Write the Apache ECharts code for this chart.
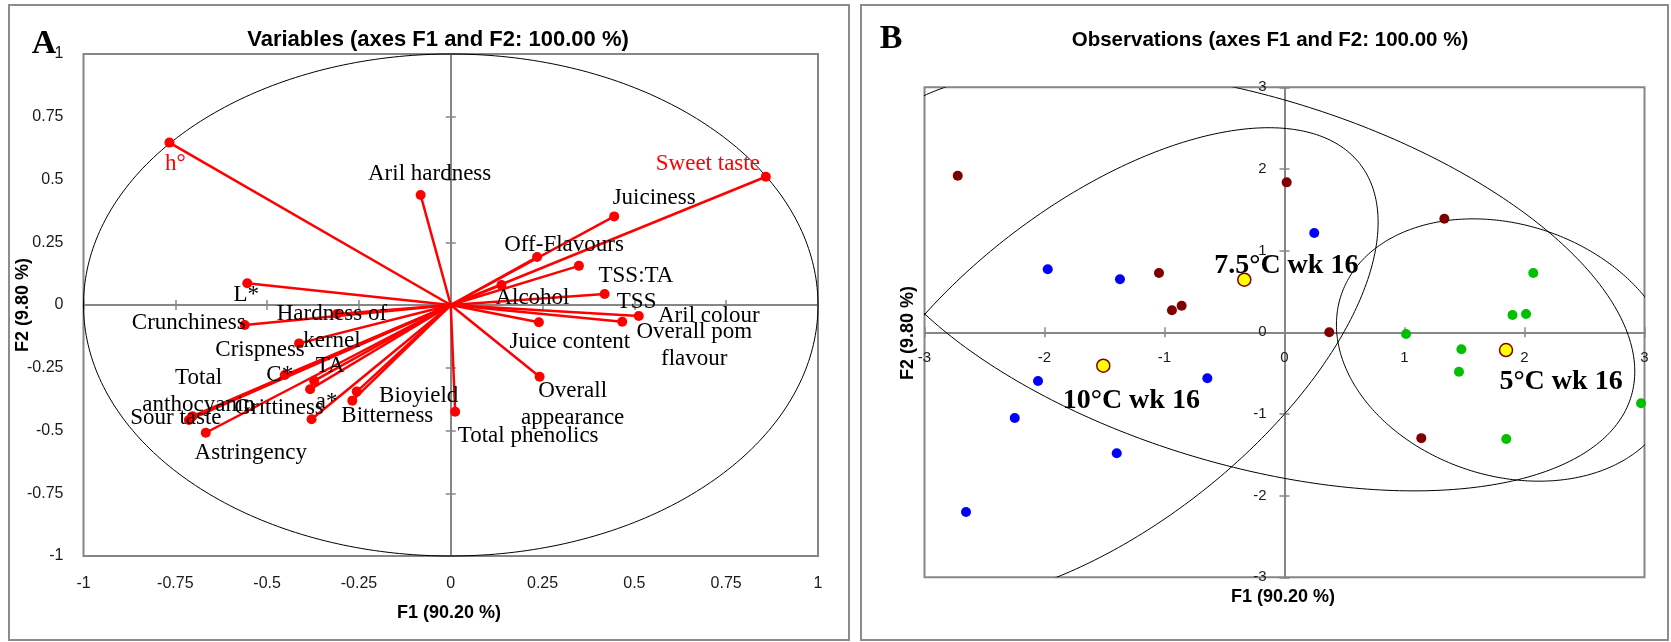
<!DOCTYPE html>
<html><head><meta charset="utf-8">
<script src="https://cdn.jsdelivr.net/npm/echarts@6/dist/echarts.min.js"></script>
<style>html,body{margin:0;padding:0;background:#fff}#chart{width:1671px;height:642px}</style>
</head><body><div id="chart"></div>
<script>
// ---------- Panel A: variables (F1 / F2 loadings) ----------
const variableNames = ['h°','Aril hardness','Sweet taste','Juiciness','Off-Flavours','TSS:TA','Alcohol','TSS','Aril colour','Overall pom\nflavour','Juice content','Overall\nappearance','Total phenolics','Bioyield','Bitterness','a*','Grittiness','TA','C*','Total\nanthocyanin','Sour taste','Astringency','Crispness','Hardness of\nkernel','Crunchiness','L*'];
const variableF1 = [-0.766,-0.082,0.858,0.445,0.235,0.349,0.138,0.419,0.512,0.467,0.240,0.242,0.012,-0.256,-0.268,-0.379,-0.383,-0.372,-0.452,-0.703,-0.713,-0.667,-0.413,-0.310,-0.561,-0.554];
const variableF2 = [0.647,0.438,0.511,0.353,0.191,0.156,0.080,0.044,-0.044,-0.067,-0.069,-0.286,-0.425,-0.345,-0.381,-0.455,-0.336,-0.302,-0.279,-0.443,-0.458,-0.509,-0.153,-0.036,-0.080,0.087];
const redVariables = ['h°','Sweet taste'];
const tickA = [-1, 1, 0.25];
const unitCircle = [[0, 0, 1, 1, 0]];

// ---------- Panel B: observations ----------
const obs75F1 = [-2.723,0.018,1.332,-1.046,-0.857,-0.938,0.373,1.140];
const obs75F2 = [1.917,1.836,1.391,0.726,0.326,0.269,0.000,-1.296];
const obs10F1 = [0.248,-1.973,-1.371,-2.054,-0.643,-2.248,-1.398,-2.654];
const obs10F2 = [1.215,0.771,0.649,-0.596,-0.563,-1.049,-1.481,-2.200];
const obs5F1 = [2.073,1.900,2.013,1.013,1.474,1.454,2.971,1.848];
const obs5F2 = [0.726,0.212,0.224,-0.020,-0.208,-0.482,-0.869,-1.306];
const centroidNames = ['7.5°C wk 16','10°C wk 16','5°C wk 16'];
const centroidF1 = [-0.335,-1.510,1.846];
const centroidF2 = [0.644,-0.409,-0.217];
// confidence ellipses: centre, semi-axes, orientation (deg)
const ellipseCX = [-0.335,-1.510,1.846];
const ellipseCY = [0.644,-0.409,-0.217];
const ellipseA = [3.575,3.347,1.678];
const ellipseB = [2.120,1.592,1.327];
const ellipseAngle = [-30.95,56.0,-61.74];
const tickB = [-3, 3, 1];

// ---------- layout / style (not data) ----------
const SERIF = "'Liberation Serif','Times New Roman',serif";
const SANS = "'Liberation Sans',Arial,sans-serif";
const AX = '#868686';
const labelOffsetA = [[6,21],[9,-21],[-58,-13],[40,-18],[27,-12],[57,10],[31,13],[32,8],[70,0],[72,24],[31,20],[33,28],[73,24],[62,4],[35,15],[15,-17],[-31,19],[16,-15],[-5,0],[6,-25],[-13,-2],[45,20],[-39,7],[-5,13],[-56,-2],[-1,12]];
const centroidLabelOffset = [[42,-14],[28,35],[55,32]];

function ellipseItem(params, api) {
  const cx = api.value(0), cy = api.value(1), a = api.value(2), b = api.value(3);
  const phi = api.value(4) * Math.PI / 180;
  const pts = [];
  const N = 360;
  for (let i = 0; i <= N; i++) {
    const t = i / N * 2 * Math.PI;
    const x = cx + a * Math.cos(t) * Math.cos(phi) - b * Math.sin(t) * Math.sin(phi);
    const y = cy + a * Math.cos(t) * Math.sin(phi) + b * Math.sin(t) * Math.cos(phi);
    pts.push(api.coord([x, y]));
  }
  return { type: 'polyline', shape: { points: pts }, style: { fill: null, stroke: '#000', lineWidth: 1 } };
}
function vectorItem(params, api) {
  const p0 = api.coord([0, 0]);
  const p1 = api.coord([api.value(0), api.value(1)]);
  return { type: 'line', shape: { x1: p0[0], y1: p0[1], x2: p1[0], y2: p1[1] }, style: { stroke: '#FF0000', lineWidth: 2.5 } };
}

function valAxis(grid, t, extra) {
  return Object.assign({ gridIndex: grid, type: 'value', min: t[0], max: t[1], interval: t[2], splitLine: { show: false } }, extra);
}
const tickStyle = { color: AX, width: 1.5 };
const lineStyle = { color: AX, width: 2 };
const tickFontA = { fontSize: 16, color: '#1a1a1a', fontFamily: SANS };
const tickFontB = { fontSize: 15, color: '#1a1a1a', fontFamily: SANS };

const xAxis = [
  // 0: panel A tick labels along the bottom edge
  valAxis(0, tickA, { position: 'bottom', axisLine: { show: false, onZero: false }, axisTick: { show: false },
    axisLabel: Object.assign({ margin: 20 }, tickFontA) }),
  // 1-2: panel A zero line with crossing ticks
  valAxis(0, tickA, { position: 'bottom', axisLine: { show: true, onZero: true, onZeroAxisIndex: 0, lineStyle: lineStyle },
    axisTick: { show: true, inside: true, length: 5, lineStyle: tickStyle }, axisLabel: { show: false } }),
  valAxis(0, tickA, { position: 'bottom', axisLine: { show: false, onZero: true, onZeroAxisIndex: 0 },
    axisTick: { show: true, inside: false, length: 5, lineStyle: tickStyle }, axisLabel: { show: false } }),
  // 3-4: panel B zero line with crossing ticks
  valAxis(1, tickB, { position: 'bottom', axisLine: { show: true, onZero: true, onZeroAxisIndex: 3, lineStyle: lineStyle },
    axisTick: { show: true, inside: false, length: 5, lineStyle: tickStyle }, axisLabel: { show: false } }),
  valAxis(1, tickB, { position: 'bottom', axisLine: { show: false, onZero: true, onZeroAxisIndex: 3 },
    axisTick: { show: true, inside: true, length: 5, lineStyle: tickStyle }, axisLabel: { show: false } }),
  // 5: panel B tick labels, drawn just below the zero line
  valAxis(1, tickB, { position: 'bottom', axisLine: { show: false, onZero: false }, axisTick: { show: false },
    axisLabel: Object.assign({ margin: -227 }, tickFontB) })
];
const yAxis = [
  valAxis(0, tickA, { position: 'left', axisLine: { show: false, onZero: false }, axisTick: { show: false },
    axisLabel: Object.assign({ margin: 20 }, tickFontA) }),
  valAxis(0, tickA, { position: 'left', axisLine: { show: true, onZero: true, onZeroAxisIndex: 0, lineStyle: lineStyle },
    axisTick: { show: true, inside: true, length: 5, lineStyle: tickStyle }, axisLabel: { show: false } }),
  valAxis(0, tickA, { position: 'left', axisLine: { show: false, onZero: true, onZeroAxisIndex: 0 },
    axisTick: { show: true, inside: false, length: 5, lineStyle: tickStyle }, axisLabel: { show: false } }),
  valAxis(1, tickB, { position: 'left', axisLine: { show: true, onZero: true, onZeroAxisIndex: 3, lineStyle: lineStyle },
    axisTick: { show: true, inside: false, length: 5, lineStyle: tickStyle }, axisLabel: { show: false } }),
  valAxis(1, tickB, { position: 'left', axisLine: { show: false, onZero: true, onZeroAxisIndex: 3 },
    axisTick: { show: true, inside: true, length: 5, lineStyle: tickStyle }, axisLabel: { show: false } }),
  // 5: panel B tick labels, drawn just left of the zero line
  valAxis(1, tickB, { position: 'left', axisLine: { show: false, onZero: false }, axisTick: { show: false },
    axisLabel: Object.assign({ margin: -342 }, tickFontB) })
];

const zip = (a, b) => a.map((v, i) => [v, b[i]]);

const chart = echarts.init(document.getElementById('chart'), null, { renderer: 'canvas' });
chart.setOption({
  animation: false,
  backgroundColor: '#fff',
  grid: [
    { left: 83.5, top: 54, width: 734.5, height: 502, show: true, borderColor: AX, borderWidth: 2, backgroundColor: 'transparent' },
    { left: 924.5, top: 87.3, width: 720, height: 490, show: true, borderColor: AX, borderWidth: 2, backgroundColor: 'transparent' }
  ],
  xAxis: xAxis,
  yAxis: yAxis,
  graphic: [
    { type: 'rect', shape: { x: 9, y: 5, width: 840, height: 635 }, style: { fill: null, stroke: '#8c8c8c', lineWidth: 2 }, silent: true },
    { type: 'rect', shape: { x: 861, y: 5, width: 807, height: 635 }, style: { fill: null, stroke: '#8c8c8c', lineWidth: 2 }, silent: true },
    { type: 'text', x: 44, y: 44, style: { text: 'A', font: 'bold 34px ' + SERIF, fill: '#000', align: 'center', verticalAlign: 'middle' } },
    { type: 'text', x: 891, y: 39, style: { text: 'B', font: 'bold 34px ' + SERIF, fill: '#000', align: 'center', verticalAlign: 'middle' } },
    { type: 'text', x: 438, y: 40, style: { text: 'Variables (axes F1 and F2: 100.00 %)', font: 'bold 22px ' + SANS, fill: '#000', align: 'center', verticalAlign: 'middle' } },
    { type: 'text', x: 1270, y: 40, style: { text: 'Observations (axes F1 and F2: 100.00 %)', font: 'bold 20.5px ' + SANS, fill: '#000', align: 'center', verticalAlign: 'middle' } },
    { type: 'text', x: 449, y: 613, style: { text: 'F1 (90.20 %)', font: 'bold 18px ' + SANS, fill: '#000', align: 'center', verticalAlign: 'middle' } },
    { type: 'text', x: 23, y: 305, rotation: Math.PI / 2, style: { text: 'F2 (9.80 %)', font: 'bold 18px ' + SANS, fill: '#000', align: 'center', verticalAlign: 'middle' } },
    { type: 'text', x: 1283, y: 597, style: { text: 'F1 (90.20 %)', font: 'bold 18px ' + SANS, fill: '#000', align: 'center', verticalAlign: 'middle' } },
    { type: 'text', x: 908, y: 333, rotation: Math.PI / 2, style: { text: 'F2 (9.80 %)', font: 'bold 18px ' + SANS, fill: '#000', align: 'center', verticalAlign: 'middle' } }
  ],
  series: [
    { type: 'custom', name: 'circle', xAxisIndex: 0, yAxisIndex: 0, clip: false, renderItem: ellipseItem, data: unitCircle, z: 2, silent: true },
    { type: 'custom', name: 'vectors', xAxisIndex: 0, yAxisIndex: 0, renderItem: vectorItem, data: zip(variableF1, variableF2), z: 3, silent: true },
    { type: 'scatter', name: 'variables', xAxisIndex: 0, yAxisIndex: 0, symbol: 'circle', symbolSize: 10, z: 4,
      itemStyle: { color: '#FF0000', opacity: 1 },
      label: { show: true, position: 'inside', formatter: '{b}', fontFamily: SERIF, fontSize: 23, lineHeight: 27, align: 'center', verticalAlign: 'middle', textBorderWidth: 0 },
      data: variableNames.map((n, i) => ({ name: n, value: [variableF1[i], variableF2[i]],
        label: { offset: labelOffsetA[i], color: redVariables.includes(n) ? '#FF0000' : '#000' } })) },
    { type: 'custom', name: 'ellipses', xAxisIndex: 3, yAxisIndex: 3, clip: true, renderItem: ellipseItem, z: 2, silent: true,
      data: ellipseCX.map((c, i) => [c, ellipseCY[i], ellipseA[i], ellipseB[i], ellipseAngle[i]]) },
    { type: 'scatter', name: '7.5°C', xAxisIndex: 3, yAxisIndex: 3, symbolSize: 10, z: 4, itemStyle: { color: '#7F0000', opacity: 1 }, data: zip(obs75F1, obs75F2) },
    { type: 'scatter', name: '10°C', xAxisIndex: 3, yAxisIndex: 3, symbolSize: 10, z: 4, itemStyle: { color: '#0000FF', opacity: 1 }, data: zip(obs10F1, obs10F2) },
    { type: 'scatter', name: '5°C', xAxisIndex: 3, yAxisIndex: 3, symbolSize: 10, z: 4, itemStyle: { color: '#00C000', opacity: 1 }, data: zip(obs5F1, obs5F2) },
    { type: 'scatter', name: 'centroids', xAxisIndex: 3, yAxisIndex: 3, symbolSize: 13, z: 5,
      itemStyle: { color: '#FFFF00', borderColor: '#7F0000', borderWidth: 1.5, opacity: 1 },
      label: { show: true, position: 'inside', formatter: '{b}', fontFamily: SERIF, fontWeight: 'bold', fontSize: 28, color: '#000', textBorderWidth: 0, align: 'center', verticalAlign: 'middle' },
      data: centroidNames.map((n, i) => ({ name: n, value: [centroidF1[i], centroidF2[i]], label: { offset: centroidLabelOffset[i] } })) }
  ]
});
</script></body></html>
